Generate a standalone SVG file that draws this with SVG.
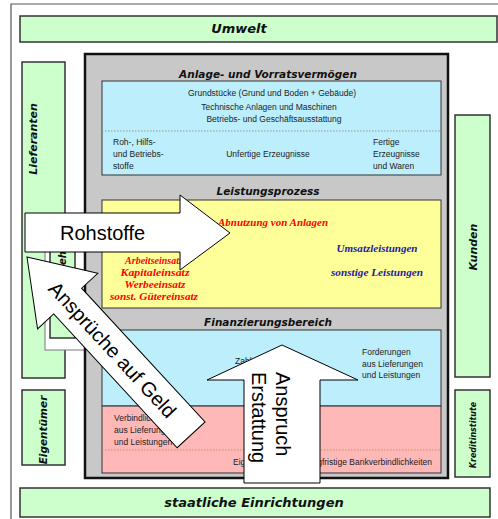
<svg xmlns="http://www.w3.org/2000/svg" width="498" height="519" viewBox="0 0 498 519">
<style>
.green{fill:#ccffcc;stroke:#333;stroke-width:1.5}
.head{font-family:"DejaVu Sans",sans-serif;font-weight:bold;font-style:italic;fill:#111}
.sm{font-family:"Liberation Sans",Arial,sans-serif;font-size:8.5px;fill:#222}
.red{font-family:"Liberation Serif","Times New Roman",serif;font-weight:bold;font-style:italic;font-size:10px;fill:#ff0000}
.blu{font-family:"Liberation Serif","Times New Roman",serif;font-weight:bold;font-style:italic;font-size:10px;fill:#1a1aa8}
.arrow{fill:#fff;stroke:#000;stroke-width:1}
.big{font-family:"Liberation Sans",Arial,sans-serif;font-size:20px;fill:#000}
</style>
<rect width="498" height="519" fill="#fff"/>
<path d="M11,519 V4 H498" fill="none" stroke="#555" stroke-width="1.2"/>

<g id="umwelt"><rect class="green" x="20" y="16" width="477" height="26"/><text class="head" x="239" y="33" font-size="13" text-anchor="middle">Umwelt</text></g>
<g id="staat"><rect class="green" x="20" y="488" width="470" height="29"/><text class="head" x="254" y="507" font-size="13" text-anchor="middle">staatliche Einrichtungen</text></g>
<g id="lieferanten"><rect class="green" x="22" y="62" width="43" height="316"/><text class="head" font-size="11" text-anchor="middle" transform="translate(37,139) rotate(-90)">Lieferanten</text></g>
<g id="arbeitnehmer"><rect x="45" y="216" width="40" height="134" fill="#fff" stroke="#777" stroke-width="1"/><rect class="green" x="50" y="218" width="25" height="120" stroke-width="1"/><text class="head" font-size="10" text-anchor="middle" transform="translate(66,268) rotate(-90)">Arbeitnehmer</text></g>
<g id="eigentuemer"><rect class="green" x="22" y="390" width="43" height="75"/><text class="head" font-size="10.5" text-anchor="middle" transform="translate(47,430) rotate(-90)">Eigentümer</text></g>
<g id="kunden"><rect class="green" x="455" y="115" width="35" height="262"/><text class="head" font-size="11" text-anchor="middle" transform="translate(477,247) rotate(-90)">Kunden</text></g>
<g id="kredit"><rect class="green" x="455" y="390" width="35" height="87"/><text class="head" font-size="8" text-anchor="middle" transform="translate(476,435) rotate(-90)">Kreditinstitute</text></g>

<g id="unternehmen">
<rect x="85" y="54" width="363" height="424" fill="#c8c8c8" stroke="#111" stroke-width="2.5"/>
<text class="head" x="268" y="78" font-size="10.5" text-anchor="middle">Anlage- und Vorratsvermögen</text>
<text class="head" x="268" y="195" font-size="10.5" text-anchor="middle">Leistungsprozess</text>
<text class="head" x="268" y="326" font-size="10.5" text-anchor="middle">Finanzierungsbereich</text>
</g>
<g id="anlage">
<rect x="102" y="81" width="339" height="94" fill="#bdeefc" stroke="#333" stroke-width="1"/>
<line x1="102" y1="131" x2="441" y2="131" stroke="#999" stroke-width="1" stroke-dasharray="1.5,1.5"/>
<text class="sm" x="272" y="96" text-anchor="middle">Grundstücke (Grund und Boden + Gebäude)</text>
<text class="sm" x="269" y="110" text-anchor="middle">Technische Anlagen und Maschinen</text>
<text class="sm" x="274" y="122" text-anchor="middle">Betriebs- und Geschäftsausstattung</text>
<text class="sm" x="113" y="145">Roh-, Hilfs-</text>
<text class="sm" x="113" y="157">und Betriebs-</text>
<text class="sm" x="113" y="169">stoffe</text>
<text class="sm" x="268" y="157" text-anchor="middle">Unfertige Erzeugnisse</text>
<text class="sm" x="373" y="145">Fertige</text>
<text class="sm" x="373" y="157">Erzeugnisse</text>
<text class="sm" x="373" y="169">und Waren</text>
</g>
<g id="leistung">
<rect x="102" y="200" width="339" height="108" fill="#ffff99" stroke="#333" stroke-width="1"/>
<text class="red" x="273" y="226" text-anchor="middle" textLength="110" lengthAdjust="spacingAndGlyphs">Abnutzung von Anlagen</text>
<text class="red" x="154" y="252" text-anchor="middle">Materialeinsatz</text>
<text class="red" x="154" y="264" text-anchor="middle">Arbeitseinsatz</text>
<text class="red" x="155" y="276" text-anchor="middle" textLength="69" lengthAdjust="spacingAndGlyphs">Kapitaleinsatz</text>
<text class="red" x="155" y="288" text-anchor="middle" textLength="61" lengthAdjust="spacingAndGlyphs">Werbeeinsatz</text>
<text class="red" x="154" y="300" text-anchor="middle" textLength="88" lengthAdjust="spacingAndGlyphs">sonst. Gütereinsatz</text>
<text class="blu" x="377" y="252" text-anchor="middle" textLength="81" lengthAdjust="spacingAndGlyphs">Umsatzleistungen</text>
<text class="blu" x="377" y="276" text-anchor="middle" textLength="92" lengthAdjust="spacingAndGlyphs">sonstige Leistungen</text>
</g>
<g id="finanz">
<rect x="102" y="330" width="339" height="76" fill="#bdeefc" stroke="#333" stroke-width="1"/>
<rect x="102" y="406" width="339" height="67" fill="#ffb8b8" stroke="#333" stroke-width="1"/>
<line x1="102" y1="406" x2="441" y2="406" stroke="#666" stroke-width="1" stroke-dasharray="1.5,1.5"/>
<line x1="102" y1="450" x2="441" y2="450" stroke="#c89060" stroke-width="1" stroke-dasharray="1.5,1.5"/>
<text class="sm" x="235" y="364">Zahlungsmittel</text>
<text class="sm" x="362" y="355">Forderungen</text>
<text class="sm" x="362" y="367">aus Lieferungen</text>
<text class="sm" x="362" y="378">und Leistungen</text>
<text class="sm" x="114" y="421">Verbindlichkeiten</text>
<text class="sm" x="114" y="433">aus Lieferungen</text>
<text class="sm" x="114" y="445">und Leistungen</text>
<text class="sm" x="233" y="465">Eigenkapital</text>
<text class="sm" x="432" y="465" text-anchor="end">langfristige Bankverbindlichkeiten</text>
</g>

<g id="connectors">
<g id="rohstoffe">
<path class="arrow" d="M25,213 H180 V195 L230,233 L180,270 V252 H25 Z"/>
<text class="big" x="60" y="240" font-size="21">Rohstoffe</text>
</g>
<g id="ansprueche" transform="translate(27,257) rotate(47.3)">
<path class="arrow" d="M0,0 L60,-41 L60,-19 L242,-19 L242,19 L60,19 L60,41 Z"/>
<text class="big" x="126" y="7" text-anchor="middle" font-size="20.5">Ansprüche auf Geld</text>
</g>
<g id="erstattung">
<path class="arrow" d="M282,345 L358,380 H320 V483 H244 V380 H207 Z"/>
<g transform="translate(276,372) rotate(90)">
<text class="big" x="0" y="0">Anspruch</text>
<text class="big" x="0" y="24">Erstattung</text>
</g>
</g>
</g>
</svg>
